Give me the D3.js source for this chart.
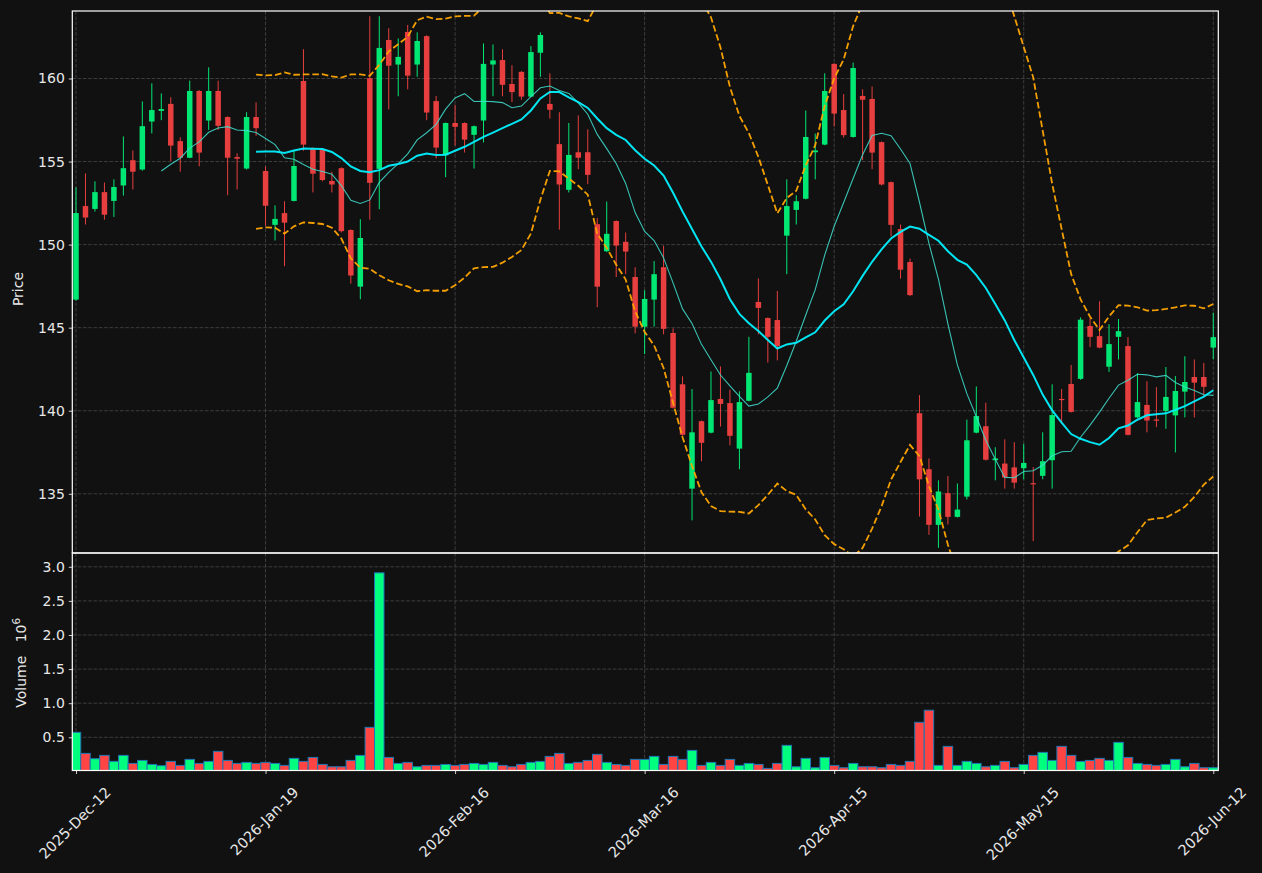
<!DOCTYPE html>
<html><head><meta charset="utf-8">
<script src="https://cdn.jsdelivr.net/npm/d3@7"></script>
<style>
body{margin:0;background:#111111;}
svg{display:block;}
text{font-family:"DejaVu Sans",sans-serif;}
</style>
</head><body>
<svg id="chart" width="1262" height="873"></svg>
<script>
// ---------------- data ----------------
const openP = [146.69,152.32,152.15,153.16,152.63,153.56,155.08,154.52,157.41,158.05,
158.47,156.23,155.23,159.25,157.47,159.25,157.68,155.27,154.58,157.68,
154.43,151.19,151.90,152.63,159.85,155.81,155.75,153.83,154.60,150.88,
147.47,160.02,154.56,162.32,160.84,162.80,160.84,162.55,158.64,155.38,
157.32,157.32,156.61,157.47,160.84,161.11,159.67,160.40,158.91,161.55,
158.47,156.05,153.30,155.56,155.56,151.23,149.60,151.42,150.17,148.05,
145.06,146.69,148.64,144.68,141.59,135.31,139.37,138.68,140.71,140.46,
137.72,140.60,146.55,145.58,145.46,150.54,152.09,152.76,155.56,156.02,
160.88,158.10,156.48,158.95,158.77,156.17,153.76,150.94,148.95,139.85,
136.48,133.13,135.04,133.61,134.83,138.68,139.07,137.02,136.82,136.59,
136.54,135.64,136.08,137.02,140.71,141.61,141.92,145.10,144.49,142.65,
144.45,143.89,139.60,140.35,139.47,139.99,139.72,141.15,142.03,142.03,
143.80];
const highP = [153.45,154.29,153.81,153.74,153.93,156.51,155.67,158.62,159.71,159.10,
158.87,156.46,159.87,159.30,160.67,159.87,157.72,155.50,157.97,158.56,
154.71,152.36,152.61,155.65,161.76,155.85,155.80,154.39,154.65,150.92,
151.53,163.75,163.75,163.03,162.41,163.22,162.78,162.60,158.95,157.35,
158.41,157.36,157.17,162.11,162.05,161.76,160.80,160.44,161.95,162.78,
160.31,157.97,157.32,157.78,156.94,151.61,152.59,151.46,150.73,148.64,
147.26,149.01,149.94,144.96,142.07,141.31,139.41,142.36,142.67,141.27,
141.17,144.45,147.97,145.62,147.21,153.93,152.97,158.07,156.69,160.31,
160.92,159.06,160.96,159.35,159.52,156.21,153.80,151.21,149.16,140.94,
137.13,135.81,136.08,135.62,139.47,141.46,140.48,137.80,138.28,138.11,
138.01,136.61,138.70,141.59,141.31,142.76,145.62,145.58,146.59,145.21,
145.52,144.43,142.26,141.78,141.42,142.63,142.09,143.28,143.09,142.88,
145.90];
const lowP = [146.62,151.21,151.99,151.50,151.67,152.95,153.32,154.45,156.69,157.49,
155.02,154.39,155.20,154.71,156.90,156.90,152.97,153.32,154.52,156.55,
151.15,150.25,148.70,152.60,155.65,153.14,153.81,153.14,150.73,147.65,
146.71,151.50,152.13,158.14,158.93,159.35,160.10,157.49,155.19,154.06,
155.96,155.54,154.58,156.15,158.93,158.93,158.58,158.72,158.87,160.10,
157.59,150.90,153.14,154.54,153.64,146.23,149.55,148.05,148.22,144.66,
143.41,145.06,144.60,140.14,138.50,133.40,136.96,138.64,139.05,137.92,
136.48,140.56,144.60,142.90,143.03,148.22,151.21,152.72,153.93,155.98,
157.11,156.44,156.44,155.08,154.54,153.56,150.50,147.95,146.90,133.63,
132.53,131.75,133.15,133.57,134.66,138.64,137.00,135.81,135.31,135.31,
135.87,132.15,135.87,135.31,139.22,139.89,141.86,143.83,143.76,142.34,
143.09,138.51,139.56,138.70,139.01,138.91,137.49,139.60,139.60,140.88,
143.09];
const closeP = [151.90,151.63,153.16,151.80,153.47,154.60,154.39,157.13,158.10,158.16,
155.96,155.23,159.25,155.54,159.25,157.15,155.23,155.17,157.68,157.01,
152.34,151.55,151.32,154.73,156.02,154.27,153.89,153.62,150.81,148.14,
150.40,153.72,161.84,160.77,161.30,160.17,162.26,157.95,155.84,157.32,
157.09,156.32,157.13,160.88,161.09,159.62,159.18,158.91,161.59,162.62,
158.12,153.62,155.40,155.23,154.20,147.47,150.65,149.94,149.58,145.06,
146.73,148.22,144.93,140.18,138.55,138.70,138.07,140.64,140.41,138.49,
140.52,142.28,146.19,144.45,143.89,152.32,152.61,156.48,155.67,159.25,
157.89,156.59,160.63,158.72,155.54,153.62,151.19,148.49,146.96,135.87,
133.13,135.14,133.61,134.05,138.22,139.68,137.05,137.13,135.98,135.67,
136.86,135.60,136.96,139.74,140.67,139.93,145.48,144.45,143.80,144.01,
144.79,138.55,140.52,139.41,139.43,140.83,141.19,141.73,141.69,141.44,
144.43];
// volume in millions (axis shows 10^6)
const volume = [0.573,0.264,0.186,0.235,0.147,0.235,0.117,0.161,0.102,0.083,
0.147,0.088,0.176,0.117,0.147,0.294,0.161,0.117,0.132,0.117,
0.132,0.117,0.088,0.191,0.147,0.205,0.102,0.068,0.068,0.161,
0.235,0.646,2.911,0.205,0.117,0.132,0.068,0.088,0.088,0.102,
0.088,0.102,0.117,0.102,0.132,0.088,0.068,0.102,0.132,0.147,
0.220,0.264,0.117,0.132,0.161,0.250,0.132,0.102,0.088,0.176,
0.176,0.220,0.102,0.220,0.176,0.308,0.088,0.132,0.088,0.176,
0.088,0.117,0.102,0.044,0.117,0.382,0.068,0.191,0.054,0.205,
0.088,0.054,0.117,0.068,0.068,0.054,0.102,0.088,0.147,0.720,
0.897,0.088,0.367,0.088,0.147,0.117,0.068,0.088,0.147,0.054,
0.102,0.235,0.279,0.161,0.367,0.235,0.147,0.161,0.191,0.161,
0.426,0.205,0.117,0.102,0.088,0.102,0.176,0.068,0.117,0.054,
0.054];
const tickIndex = [0,20,40,60,80,100,120];
const tickLabels = ["2025-Dec-12","2026-Jan-19","2026-Feb-16","2026-Mar-16","2026-Apr-15","2026-May-15","2026-Jun-12"];
const priceTicks = [135,140,145,150,155,160];
const volTicks = [0.5,1.0,1.5,2.0,2.5,3.0];
const maShort = 10, maLong = 20;

// ---------------- derived (rolling stats of close) ----------------
function rolling(arr, p, fn){
  return arr.map((_,i)=> i < p-1 ? null : fn(arr.slice(i-p+1,i+1)));
}
const ma10 = rolling(closeP, maShort, d3.mean);
const ma20 = rolling(closeP, maLong, d3.mean);
const sd20 = rolling(closeP, maLong, a=>{const m=d3.mean(a);return Math.sqrt(d3.mean(a,v=>(v-m)*(v-m)));});
const bbUp = ma20.map((m,i)=> m==null?null:m+2*sd20[i]);
const bbLo = ma20.map((m,i)=> m==null?null:m-2*sd20[i]);

// ---------------- layout ----------------
const L=72.3, R=1218.3, pTop=11, pBot=553, vTop=553, vBot=770.5;
const n = closeP.length;
const svg = d3.select("#chart");
svg.append("rect").attr("width",1262).attr("height",873).attr("fill","#111111");

const x = d3.scaleLinear().domain([-0.39, n-1+0.53]).range([L,R]);
const y = d3.scaleLinear().domain([131.436,164.063]).range([pBot,pTop]);
const yv = d3.scaleLinear().domain([0.3*d3.min(volume), 1.1*d3.max(volume)]).range([vBot,vTop]);
const step = x(1)-x(0);

const UP="#00ff7f", DN="#ff4444";
const TXT="#e8e8e8", GRID="#3d3d3d";

const defs = svg.append("defs");
defs.append("clipPath").attr("id","clipP").append("rect")
  .attr("x",L).attr("y",pTop).attr("width",R-L).attr("height",pBot-pTop);
defs.append("clipPath").attr("id","clipV").append("rect")
  .attr("x",L).attr("y",vTop).attr("width",R-L).attr("height",vBot-vTop);

// ---------------- grids ----------------
function grid(g, ys, ysc, top, bot){
  g.selectAll("line.h").data(ys).join("line").attr("class","h")
    .attr("x1",L).attr("x2",R).attr("y1",d=>ysc(d)).attr("y2",d=>ysc(d))
    .attr("stroke",GRID).attr("stroke-width",1).attr("stroke-dasharray","3.7,1.6");
  g.selectAll("line.v").data(tickIndex).join("line").attr("class","v")
    .attr("x1",d=>x(d)).attr("x2",d=>x(d)).attr("y1",top).attr("y2",bot)
    .attr("stroke",GRID).attr("stroke-width",1).attr("stroke-dasharray","3.7,1.6");
}
grid(svg.append("g"), priceTicks, y, pTop, pBot);
grid(svg.append("g"), volTicks, yv, vTop, vBot);

// ---------------- price panel ----------------
const gp = svg.append("g").attr("clip-path","url(#clipP)");
const idx = d3.range(n);
const bw = step*0.58;
const candles = gp.selectAll("g.c").data(idx).join("g").attr("class","c")
  .attr("opacity",0.9);
candles.append("line")
  .attr("x1",i=>x(i)).attr("x2",i=>x(i))
  .attr("y1",i=>y(highP[i])).attr("y2",i=>y(lowP[i]))
  .attr("stroke",i=>closeP[i]>=openP[i]?UP:DN).attr("stroke-width",1);
candles.append("rect")
  .attr("x",i=>x(i)-bw/2).attr("width",bw)
  .attr("y",i=>y(Math.max(openP[i],closeP[i])))
  .attr("height",i=>Math.max(1.2, Math.abs(y(openP[i])-y(closeP[i]))))
  .attr("fill",i=>closeP[i]>=openP[i]?UP:DN);

const line = d3.line().defined(d=>d[1]!=null).x(d=>x(d[0])).y(d=>y(d[1]));
[bbUp,bbLo].forEach(band=>{
  gp.append("path").datum(band.map((v,i)=>[i,v])).attr("d",line)
    .attr("fill","none").attr("stroke","#ffa500").attr("stroke-width",1.8)
    .attr("stroke-dasharray","6.6,2.9").attr("opacity",0.95);
});
gp.append("path").datum(ma10.map((v,i)=>[i,v])).attr("d",line)
  .attr("fill","none").attr("stroke","#40e0d0").attr("stroke-width",1.1).attr("opacity",0.85);
gp.append("path").datum(ma20.map((v,i)=>[i,v])).attr("d",line)
  .attr("fill","none").attr("stroke","#00f0ff").attr("stroke-width",2).attr("opacity",0.95);

// ---------------- volume panel ----------------
const gv = svg.append("g").attr("clip-path","url(#clipV)");
gv.selectAll("rect").data(idx).join("rect")
  .attr("x",i=>x(i)-step/2).attr("width",step)
  .attr("y",i=>yv(volume[i])).attr("height",i=>vBot-yv(volume[i])+2)
  .attr("fill",i=>closeP[i]>=openP[i]?UP:DN)
  .attr("stroke","#1f77b4").attr("stroke-width",1);

// ---------------- axes ----------------
function styleAxis(g){
  g.select(".domain").remove();
  g.selectAll(".tick line").attr("stroke","#ffffff").attr("stroke-width",0.8);
  g.selectAll(".tick text").attr("fill",TXT).attr("font-size",14).attr("font-family","DejaVu Sans");
}
svg.append("g").attr("transform",`translate(${L},0)`)
  .call(d3.axisLeft(y).tickValues(priceTicks).tickSize(3.5).tickPadding(4).tickFormat(d3.format("d")))
  .call(styleAxis);
svg.append("g").attr("transform",`translate(${L},0)`)
  .call(d3.axisLeft(yv).tickValues(volTicks).tickSize(3.5).tickPadding(4).tickFormat(d3.format(".1f")))
  .call(styleAxis);
const gx = svg.append("g").attr("transform",`translate(0,${vBot})`)
  .call(d3.axisBottom(x).tickValues(tickIndex).tickSize(3.5).tickFormat((d,i)=>tickLabels[i]))
  .call(styleAxis);
gx.selectAll(".tick text").attr("font-size",14.5).each(function(){
  const t = d3.select(this);
  const len = this.getComputedTextLength();
  const cy = 14 + (len+15)*0.3536;
  t.attr("x",0).attr("y",0).attr("dy",null)
   .attr("text-anchor","middle").attr("dominant-baseline","central")
   .attr("transform",`translate(-1.5,${cy}) rotate(-45)`);
});

// borders
[[pTop,pBot],[vTop,vBot]].forEach(([t,b])=>{
  svg.append("rect").attr("x",L).attr("y",t).attr("width",R-L).attr("height",b-t)
    .attr("fill","none").attr("stroke","#ffffff").attr("stroke-width",1.2);
});

// axis labels
svg.append("text").attr("transform",`translate(23,${(pTop+pBot)/2+7}) rotate(-90)`)
  .attr("text-anchor","middle").attr("fill",TXT).attr("font-size",14).text("Price");
const vl = svg.append("text").attr("transform",`translate(26,${(vTop+vBot)/2+1}) rotate(-90)`)
  .attr("text-anchor","middle").attr("fill",TXT).attr("font-size",14);
vl.append("tspan").text("Volume\u00a0\u00a0\u00a010");
vl.append("tspan").attr("dy",-6).attr("font-size",10.5).text("6");
</script>
</body></html>
